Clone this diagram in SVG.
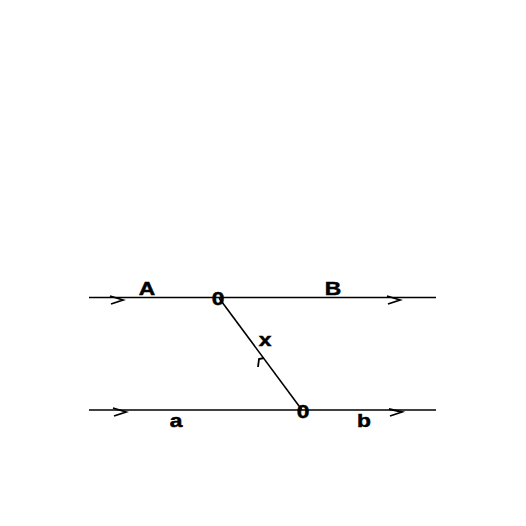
<svg xmlns="http://www.w3.org/2000/svg" width="526" height="526" viewBox="0 0 526 526">
<style>
.ln{stroke:#000;stroke-width:1.6;fill:none}
.ch{stroke:#000;stroke-width:1.8;fill:none;stroke-linejoin:miter}
.lb{font-family:"Liberation Sans",Arial,sans-serif;font-weight:bold;font-size:19px;fill:#000;stroke:#000;stroke-width:0.5;text-anchor:middle}
</style>
<rect width="526" height="526" fill="#fff"/>
<g id="connectors">
<line class="ln" x1="89" y1="297.5" x2="436" y2="297.5"/>
<line class="ln" x1="89" y1="410" x2="436" y2="410"/>
<line class="ln" x1="219" y1="298" x2="302" y2="410"/>
<polyline class="ch" points="110,296 123,300 111,304"/>
<polyline class="ch" points="387,296 400,300 388,304"/>
<polyline class="ch" points="113,408 126,412 114,416"/>
<polyline class="ch" points="389,409 402,412 390,416"/>
<polyline class="ch" points="258,367 259,359 264,358"/>
</g>
<g id="node-A"><text class="lb" transform="translate(147,295) scale(1.2,1)">A</text></g>
<g id="node-B"><text class="lb" transform="translate(333,295) scale(1.2,1)">B</text></g>
<g id="node-a"><text class="lb" transform="translate(176,427) scale(1.2,1)">a</text></g>
<g id="node-b"><text class="lb" transform="translate(364,427) scale(1.2,1)">b</text></g>
<g id="node-x"><text class="lb" transform="translate(265,346) scale(1.2,1)">x</text></g>
<g id="node-top0"><text class="lb" transform="translate(218,305) scale(1.2,1)">0</text></g>
<g id="node-bot0"><text class="lb" transform="translate(303,418) scale(1.2,1)">0</text></g>
</svg>
